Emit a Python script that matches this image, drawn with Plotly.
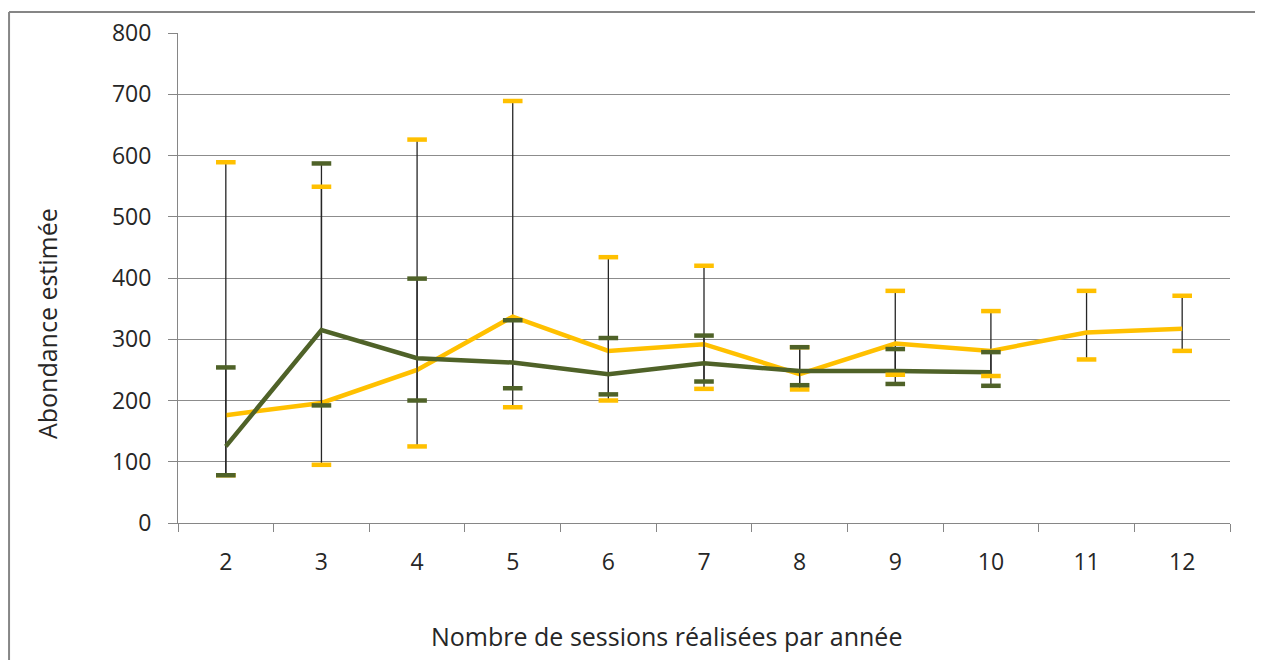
import plotly.graph_objects as go

# Nombre de sessions par année
sessions = ["2", "3", "4", "5", "6", "7", "8", "9", "10", "11", "12"]

# série jaune
jaune = [176, 196, 250, 337, 281, 292, 243, 293, 281, 311, 317]
jaune_haut = [589, 549, 626, 689, 434, 420, 287, 379, 346, 379, 371]
jaune_bas = [78, 95, 125, 189, 200, 219, 218, 242, 240, 267, 281]

# série verte (pas de valeurs pour 11 et 12)
vert = [125, 315, 269, 262, 243, 261, 248, 248, 246, None, None]
vert_haut = [254, 587, 399, 331, 302, 306, 287, 284, 279, None, None]
vert_bas = [78, 192, 200, 220, 210, 231, 225, 227, 224, None, None]

titre_x = "Nombre de sessions réalisées par année"
titre_y = "Abondance estimée"

JAUNE = "#FFC000"
VERT = "#4F6228"
FONT = "Open Sans"


def err(val, hi, lo):
    plus = [h - v if v is not None else None for v, h in zip(val, hi)]
    minus = [v - l if v is not None else None for v, l in zip(val, lo)]
    return dict(type="data", symmetric=False, array=plus, arrayminus=minus,
                color="#262626", thickness=1.3, width=0)


fig = go.Figure()

fig.add_trace(go.Scatter(x=sessions, y=jaune, mode="lines",
                         line=dict(color=JAUNE, width=4.5),
                         error_y=err(jaune, jaune_haut, jaune_bas)))
fig.add_trace(go.Scatter(x=sessions, y=vert, mode="lines",
                         line=dict(color=VERT, width=4.5),
                         error_y=err(vert, vert_haut, vert_bas)))

# petits traits colorés aux extrémités des barres d'erreur
for ys, c in [(jaune_haut, JAUNE), (jaune_bas, JAUNE), (vert_haut, VERT), (vert_bas, VERT)]:
    fig.add_trace(go.Scatter(x=sessions, y=ys, mode="markers",
                             marker=dict(symbol="line-ew", size=14,
                                         line=dict(color=c, width=4.5))))

# la page a une marge de 8px : on réduit la taille en conséquence
fig.update_layout(
    width=1255, height=652,
    margin=dict(l=170, r=33, t=25, b=137),
    paper_bgcolor="white", plot_bgcolor="white",
    showlegend=False, hovermode=False,
    font=dict(family=FONT, color="#262626"),
    shapes=[
        dict(type="line", xref="paper", yref="paper",
             x0=-0.1606, x1=1.04, y0=1.0429, y1=1.0429,
             line=dict(color="#868686", width=2)),
        dict(type="line", xref="paper", yref="paper",
             x0=-0.1606, x1=-0.1606, y0=1.0429, y1=-0.35,
             line=dict(color="#868686", width=2)),
    ],
    # titres des axes décalés comme dans l'original (pas centrés sur le graphe)
    annotations=[
        dict(text=titre_x, xref="paper", yref="paper", x=0.464, y=-0.2306,
             xanchor="center", yanchor="middle", showarrow=False,
             font=dict(size=25)),
        dict(text=titre_y, xref="paper", yref="paper", x=-0.1245, y=0.406,
             xanchor="center", yanchor="middle", showarrow=False,
             textangle=-90, font=dict(size=25)),
    ],
)

fig.update_xaxes(
    type="category", range=[-0.5, len(sessions) - 0.5],
    tickson="boundaries", ticks="outside", ticklen=8,
    tickcolor="#868686", showline=True, linecolor="#868686", linewidth=1,
    showgrid=False, tickfont=dict(size=23), ticklabelstandoff=18,
    automargin=False,
)
fig.update_yaxes(
    range=[0, 800], dtick=100, ticks="outside", ticklen=9,
    tickcolor="#868686", showline=True, linecolor="#868686", linewidth=1,
    gridcolor="#8C8C8C", gridwidth=1, zeroline=False,
    tickfont=dict(size=23), ticklabelstandoff=12, automargin=False,
)

fig.write_html("out.html")
